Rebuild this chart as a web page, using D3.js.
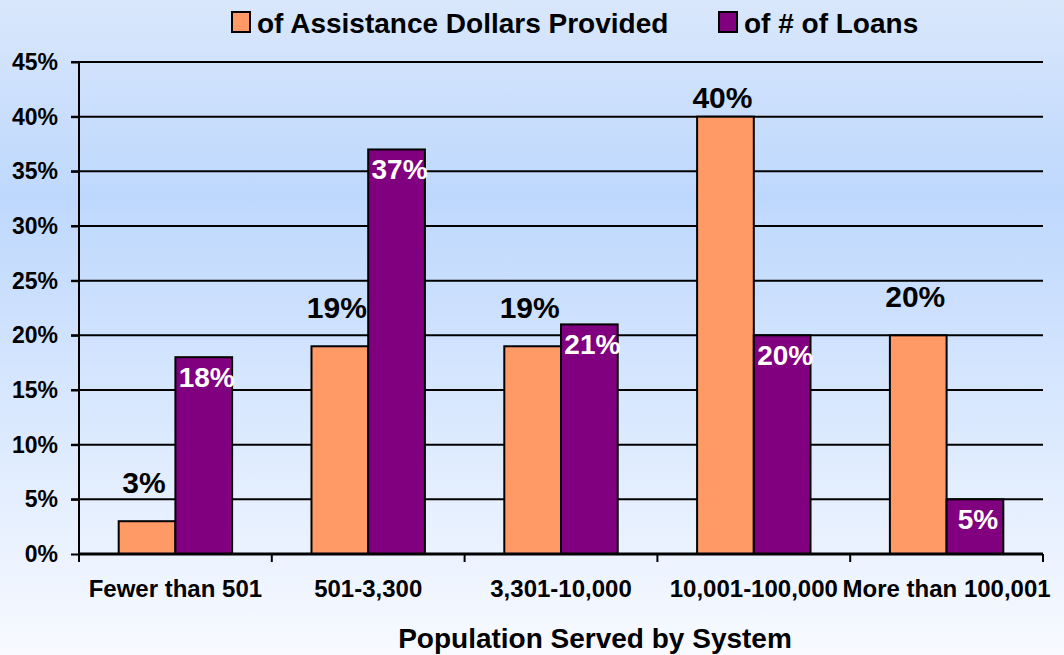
<!DOCTYPE html>
<html>
<head>
<meta charset="utf-8">
<script src="https://cdn.jsdelivr.net/npm/d3@7"></script>
<style>
  body { margin: 0; }
  svg { display: block; font-family: Arial, "Liberation Sans", sans-serif; font-weight: bold; }
</style>
</head>
<body>
<svg class="chart"></svg>
<script>
// Data
const categories = ['Fewer than 501', '501-3,300', '3,301-10,000', '10,001-100,000', 'More than 100,001'];
const dollarsPct = [3, 19, 19, 40, 20];
const loansPct = [18, 37, 21, 20, 5];
const seriesNames = ['of Assistance Dollars Provided', 'of # of Loans'];
const yTicks = [0, 5, 10, 15, 20, 25, 30, 35, 40, 45];

const width = 1064;
const height = 655;
const margin = { top: 62, right: 21, bottom: 101, left: 79 };
const colors = ['#ff9966', '#800080'];

const svg = d3.select('svg.chart')
  .attr('width', width)
  .attr('height', height);

//Background gradient
const grad = svg.append('defs').append('linearGradient')
  .attr('id', 'bg')
  .attr('x1', 0).attr('y1', 0).attr('x2', 0).attr('y2', 1);
grad.append('stop').attr('offset', '0%').attr('stop-color', '#d9e7fb');
grad.append('stop').attr('offset', '30%').attr('stop-color', '#bed8fd');
grad.append('stop').attr('offset', '100%').attr('stop-color', '#f8faff');
svg.append('rect').attr('width', width).attr('height', height).attr('fill', 'url(#bg)');

const x0 = d3.scaleBand()
  .domain(categories)
  .range([margin.left, width - margin.right])
  .paddingInner(0)
  .paddingOuter(0);

// gap width 140% -> each bar is 1/3.4 of the band
const barW = x0.bandwidth() / 3.4;
const x1 = d3.scaleBand()
  .domain([0, 1])
  .range([0, barW * 2]);

const y = d3.scaleLinear()
  .domain([0, 45])
  .range([height - margin.bottom, margin.top]);

const plot = svg.append('g');

//Gridlines
plot.selectAll('.grid')
  .data(yTicks.filter(d => d > 0))
  .enter()
  .append('line')
    .attr('x1', margin.left - 8)
    .attr('x2', width - margin.right)
    .attr('y1', d => y(d))
    .attr('y2', d => y(d))
    .attr('stroke', '#000')
    .attr('stroke-width', 2);

//Y axis
const yAxis = plot.append('g')
  .attr('transform', `translate(${margin.left},0)`)
  .call(d3.axisLeft(y).tickValues(yTicks).tickFormat(d => d + '%').tickSize(8).tickPadding(13));
yAxis.select('.domain').attr('stroke', '#000').attr('stroke-width', 2).attr('d', `M0,${y(0)}V${y(45)}`);
yAxis.selectAll('.tick line').attr('stroke', '#000').attr('stroke-width', 2);
yAxis.selectAll('.tick text')
  .attr('fill', '#000')
  .style('font-size', '23px')
  .style('font-family', 'Arial, "Liberation Sans", sans-serif')
  .style('font-weight', 'bold');

//Bars
const groups = plot.selectAll('.group')
  .data(categories)
  .enter()
  .append('g')
    .attr('transform', d => `translate(${x0(d) + (x0.bandwidth() - barW * 2) / 2},0)`);

groups.each(function (cat, i) {
  const g = d3.select(this);
  [dollarsPct[i], loansPct[i]].forEach((v, s) => {
    g.append('rect')
      .attr('x', x1(s))
      .attr('y', y(v))
      .attr('width', x1.bandwidth())
      .attr('height', y(0) - y(v))
      .attr('fill', colors[s])
      .attr('stroke', '#000')
      .attr('stroke-width', 2);
  });
  //Labels: orange above (kept under the top gridline), purple inside
  g.append('text')
    .attr('x', x1(0) + x1.bandwidth() / 2 - 3)
    .attr('y', Math.max(y(dollarsPct[i]) - 28, margin.top + 46))
    .attr('text-anchor', 'middle')
    .style('font-size', '30px')
    .attr('fill', '#000')
    .text(dollarsPct[i] + '%');
  g.append('text')
    .attr('x', x1(1) + x1.bandwidth() / 2 + 3)
    .attr('y', y(loansPct[i]) + 30)
    .attr('text-anchor', 'middle')
    .style('font-size', '28px')
    .attr('fill', '#fff')
    .text(loansPct[i] + '%');
});

//X axis
const xAxisY = y(0);
plot.append('line')
  .attr('x1', margin.left).attr('x2', width - margin.right)
  .attr('y1', xAxisY).attr('y2', xAxisY)
  .attr('stroke', '#000').attr('stroke-width', 3);
const boundaries = categories.map(c => x0(c)).concat([width - margin.right]);
plot.selectAll('.xtick')
  .data(boundaries)
  .enter()
  .append('line')
    .attr('x1', d => d).attr('x2', d => d)
    .attr('y1', xAxisY).attr('y2', xAxisY + 8)
    .attr('stroke', '#000').attr('stroke-width', 2);

plot.selectAll('.xlabel')
  .data(categories)
  .enter()
  .append('text')
    .attr('x', d => x0(d) + x0.bandwidth() / 2)
    .attr('y', 597)
    .attr('text-anchor', 'middle')
    .style('font-size', '24px')
    .attr('fill', '#000')
    .text(d => d)
    .each(function () {
      //keep last label inside the picture
      const bb = this.getBBox();
      if (bb.x + bb.width > width - 3) {
        d3.select(this).attr('x', +d3.select(this).attr('x') - (bb.x + bb.width - width + 3));
      }
    });

//Axis title
svg.append('text')
  .attr('x', 595)
  .attr('y', 648)
  .attr('text-anchor', 'middle')
  .style('font-size', '28px')
  .attr('fill', '#000')
  .text('Population Served by System');

//Legend
const legendItems = [
  { x: 232, name: seriesNames[0], color: colors[0] },
  { x: 719, name: seriesNames[1], color: colors[1] }
];
const legend = svg.selectAll('.legend')
  .data(legendItems)
  .enter()
  .append('g')
    .attr('transform', d => `translate(${d.x},12)`);
legend.append('rect')
  .attr('width', 18).attr('height', 20)
  .attr('fill', d => d.color)
  .attr('stroke', '#000').attr('stroke-width', 2);
legend.append('text')
  .attr('x', 25)
  .attr('y', 21)
  .style('font-size', '28px')
  .attr('fill', '#000')
  .text(d => d.name);
</script>
</body>
</html>
